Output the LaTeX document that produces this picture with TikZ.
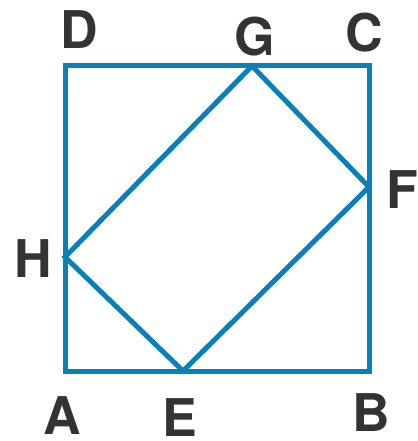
\documentclass[tikz,border=0pt]{standalone}
\usepackage{fontspec}
\setmainfont{TeX Gyre Heros}
\definecolor{sqBlue}{HTML}{0A80B8}
\definecolor{labelGray}{HTML}{333333}
\tikzset{
    sqline/.style={draw=sqBlue, line width=5pt, line join=miter},
    ptlabel/.style={text=labelGray, font=\fontsize{52}{52}\selectfont\bfseries, inner sep=0pt}
}
\begin{document}
\begin{tikzpicture}[x=1pt, y=-1pt]
    \useasboundingbox (0,0) rectangle (417,441);
    % square corners and points on the sides
    \coordinate (A) at (65,371);
    \coordinate (B) at (369,371);
    \coordinate (C) at (369,66);
    \coordinate (D) at (65,66);
    \coordinate (E) at (183,371);
    \coordinate (F) at (369,187);
    \coordinate (G) at (252,66);
    \coordinate (H) at (65,257);
    \draw[sqline] (A) -- (B) -- (C) -- (D) -- cycle;
    \draw[sqline] (E) -- (F) -- (G) -- (H) -- cycle;
    % labels
    \foreach \n/\x/\y in {A/62/416, B/371/413, C/364/33, D/79/30, E/180/418, F/402/190, G/255/37, H/33/259}{
        \node[ptlabel] (lbl\n) at (\x,\y) {\n};
    }
\end{tikzpicture}
\end{document}
